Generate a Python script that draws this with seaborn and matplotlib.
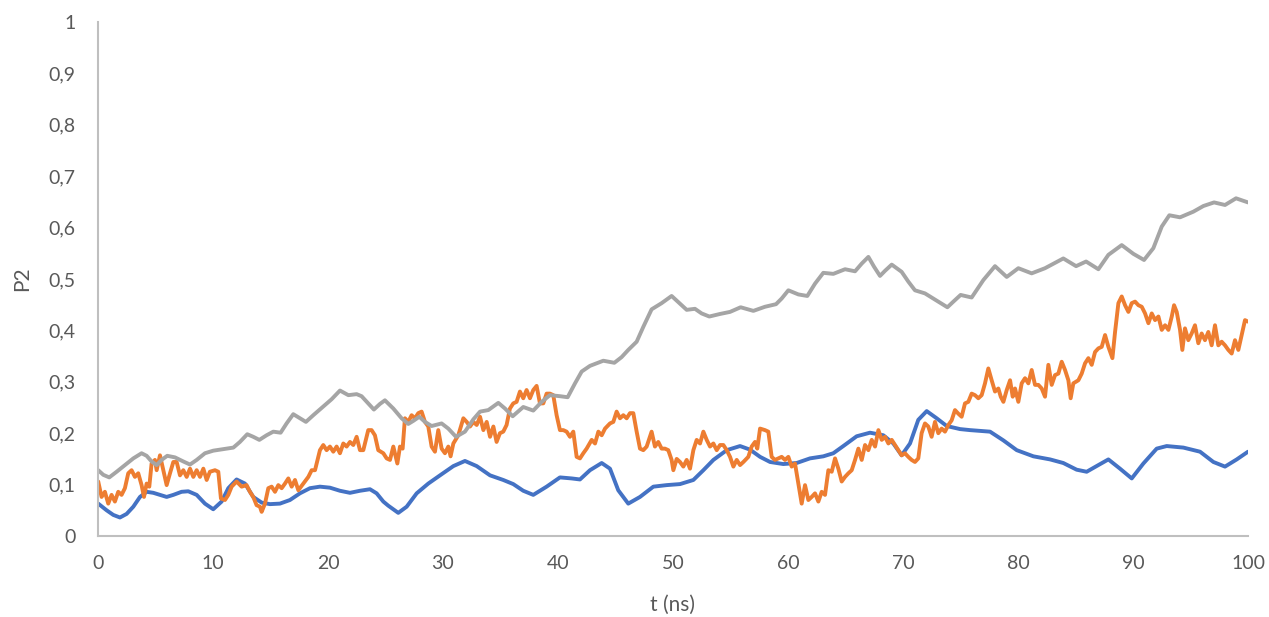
import pandas as pd
import seaborn as sns
import matplotlib.pyplot as plt
from matplotlib.ticker import FuncFormatter, MultipleLocator

# serie azul (suave)
t_azul = [0.02, 0.75, 1.33, 1.91, 2.49, 3.07, 3.65, 4.23, 4.81, 5.39, 5.97, 6.55, 7.27, 7.85,
          8.58, 9.30, 10.02, 10.75, 11.33, 12.05, 12.78, 13.50, 14.23, 14.95, 15.82, 16.69,
          17.56, 18.43, 19.30, 20.17, 21.04, 21.91, 22.78, 23.65, 24.23, 24.81, 25.24, 26.11,
          26.84, 27.71, 28.72, 29.74, 30.90, 31.91, 32.93, 34.09, 35.24, 36.11, 36.98, 37.85,
          39.01, 40.17, 41.19, 41.91, 42.78, 43.80, 44.52, 45.24, 46.11, 47.13, 48.29, 49.45,
          50.61, 51.77, 52.64, 53.51, 54.67, 55.83, 56.70, 57.57, 58.44, 59.59, 60.75, 61.91,
          63.07, 63.94, 64.81, 65.97, 67.13, 68.29, 69.16, 69.88, 70.61, 71.33, 72.06, 72.93,
          73.80, 74.96, 75.83, 77.57, 78.73, 79.89, 81.34, 82.79, 83.94, 85.10, 85.97, 86.99,
          87.86, 88.87, 89.89, 90.90, 92.06, 92.93, 94.38, 95.83, 96.99, 98.00, 99.02, 100.0]
v_azul = [0.063, 0.050, 0.041, 0.036, 0.043, 0.057, 0.076, 0.086, 0.084, 0.080, 0.076, 0.080,
          0.086, 0.087, 0.080, 0.063, 0.052, 0.067, 0.093, 0.110, 0.102, 0.076, 0.065, 0.062,
          0.063, 0.070, 0.083, 0.093, 0.096, 0.094, 0.088, 0.084, 0.088, 0.091, 0.083, 0.067,
          0.059, 0.045, 0.057, 0.083, 0.102, 0.118, 0.136, 0.146, 0.136, 0.118, 0.109, 0.101,
          0.088, 0.080, 0.096, 0.114, 0.112, 0.110, 0.128, 0.142, 0.131, 0.089, 0.063, 0.076,
          0.096, 0.099, 0.101, 0.109, 0.128, 0.148, 0.167, 0.175, 0.168, 0.154, 0.144, 0.140,
          0.142, 0.151, 0.155, 0.161, 0.175, 0.194, 0.201, 0.196, 0.180, 0.157, 0.180, 0.226,
          0.243, 0.229, 0.214, 0.208, 0.206, 0.203, 0.186, 0.167, 0.155, 0.149, 0.142, 0.129,
          0.125, 0.138, 0.149, 0.131, 0.112, 0.141, 0.170, 0.175, 0.172, 0.164, 0.144, 0.135,
          0.149, 0.164]

# serie gris
t_gris = [0.02, 0.46, 0.98, 1.62, 2.34, 3.07, 3.79, 4.23, 4.66, 5.10, 5.53, 6.02, 6.69, 7.42,
          8.00, 8.58, 9.30, 10.02, 10.89, 11.77, 12.34, 12.98, 13.50, 14.03, 14.66, 15.24,
          15.88, 16.40, 16.98, 17.56, 18.08, 18.72, 19.59, 20.31, 21.04, 21.77, 22.49, 22.92,
          23.50, 23.99, 24.52, 24.95, 25.68, 26.40, 26.98, 27.42, 27.94, 28.43, 29.01, 29.88,
          30.46, 31.13, 31.91, 32.64, 33.22, 33.94, 34.81, 35.39, 36.06, 36.98, 37.85, 38.58,
          39.30, 40.17, 40.84, 41.48, 42.06, 42.78, 43.94, 44.90, 45.53, 46.11, 46.84, 47.42,
          48.14, 49.01, 49.88, 50.46, 51.19, 51.91, 52.49, 53.16, 54.09, 54.96, 55.88, 56.99,
          58.00, 58.96, 59.45, 60.03, 60.90, 61.68, 62.35, 63.07, 63.94, 64.96, 65.83, 66.41,
          66.99, 67.48, 68.00, 68.44, 69.02, 69.88, 70.46, 71.04, 71.91, 72.93, 73.86, 74.38,
          75.01, 75.97, 76.99, 78.00, 79.02, 80.03, 81.19, 82.35, 83.94, 85.05, 85.92, 86.99,
          87.86, 89.02, 90.03, 90.96, 91.77, 92.50, 93.16, 94.09, 95.25, 96.12, 97.05, 98.00,
          98.96, 100.0]
v_gris = [0.128, 0.119, 0.114, 0.125, 0.138, 0.151, 0.161, 0.156, 0.145, 0.138, 0.148, 0.156,
          0.153, 0.145, 0.139, 0.148, 0.161, 0.166, 0.169, 0.172, 0.183, 0.198, 0.193, 0.187,
          0.196, 0.203, 0.201, 0.219, 0.237, 0.229, 0.222, 0.235, 0.252, 0.266, 0.283, 0.274,
          0.276, 0.272, 0.258, 0.246, 0.257, 0.264, 0.248, 0.229, 0.218, 0.224, 0.232, 0.222,
          0.214, 0.219, 0.209, 0.193, 0.203, 0.227, 0.242, 0.245, 0.259, 0.248, 0.233, 0.251,
          0.244, 0.261, 0.274, 0.272, 0.270, 0.297, 0.320, 0.331, 0.341, 0.337, 0.348, 0.362,
          0.378, 0.407, 0.441, 0.453, 0.467, 0.455, 0.440, 0.442, 0.433, 0.427, 0.432, 0.436,
          0.445, 0.438, 0.446, 0.451, 0.462, 0.478, 0.470, 0.467, 0.491, 0.512, 0.510, 0.519,
          0.515, 0.530, 0.543, 0.524, 0.506, 0.516, 0.528, 0.514, 0.495, 0.478, 0.472, 0.458,
          0.445, 0.456, 0.469, 0.464, 0.498, 0.525, 0.504, 0.521, 0.511, 0.521, 0.540, 0.525,
          0.534, 0.519, 0.547, 0.566, 0.549, 0.537, 0.560, 0.602, 0.624, 0.620, 0.631, 0.642,
          0.649, 0.644, 0.657, 0.649]

# serie naranja (ruidosa)
t_naranja = [0.02, 0.31, 0.60, 0.89, 1.18, 1.47, 1.76, 2.05, 2.34, 2.63, 2.92, 3.21, 3.50, 3.79,
             4.00, 4.23, 4.46, 4.66, 4.95, 5.10, 5.39, 5.68, 5.97, 6.26, 6.55, 6.84, 7.13, 7.42,
             7.71, 8.00, 8.29, 8.58, 8.87, 9.16, 9.45, 9.73, 10.17, 10.46, 10.69, 11.04, 11.33,
             11.62, 12.05, 12.49, 12.92, 13.21, 13.50, 13.79, 14.08, 14.23, 14.52, 14.81, 15.10,
             15.39, 15.68, 15.97, 16.26, 16.55, 16.84, 17.13, 17.42, 17.85, 18.29, 18.58, 18.87,
             19.30, 19.59, 19.88, 20.17, 20.46, 20.75, 21.04, 21.33, 21.62, 21.91, 22.20, 22.49,
             22.78, 23.07, 23.50, 23.79, 24.08, 24.37, 24.81, 25.10, 25.39, 25.68, 25.82, 26.03,
             26.26, 26.49, 26.69, 26.98, 27.27, 27.56, 27.85, 28.14, 28.43, 28.72, 29.01, 29.30,
             29.59, 29.88, 30.17, 30.46, 30.66, 30.90, 31.33, 31.77, 32.06, 32.35, 32.64, 32.93,
             33.22, 33.51, 33.80, 34.09, 34.38, 34.66, 34.95, 35.24, 35.53, 35.82, 36.11, 36.40,
             36.69, 36.98, 37.27, 37.56, 37.85, 38.14, 38.43, 38.72, 39.01, 39.30, 39.59, 39.88,
             40.17, 40.46, 40.75, 41.04, 41.33, 41.62, 41.91, 42.20, 42.49, 42.93, 43.22, 43.51,
             43.80, 44.09, 44.52, 44.81, 45.10, 45.39, 45.68, 45.97, 46.26, 46.55, 46.84, 47.13,
             47.42, 47.71, 48.14, 48.43, 48.72, 49.01, 49.30, 49.59, 49.88, 50.03, 50.32, 50.61,
             50.90, 51.19, 51.48, 51.77, 52.06, 52.35, 52.64, 52.93, 53.22, 53.51, 53.80, 54.09,
             54.38, 54.67, 54.96, 55.25, 55.54, 55.83, 56.12, 56.55, 56.84, 57.13, 57.33, 57.57,
             58.00, 58.29, 58.58, 58.87, 59.16, 59.45, 59.74, 60.03, 60.32, 60.61, 60.90, 61.19,
             61.48, 61.77, 62.06, 62.35, 62.64, 62.93, 63.22, 63.51, 63.80, 64.09, 64.38, 64.67,
             64.96, 65.25, 65.54, 65.83, 66.12, 66.41, 66.70, 66.99, 67.28, 67.57, 67.86, 68.15,
             68.44, 68.73, 69.02, 69.31, 69.60, 69.88, 70.17, 70.46, 70.75, 71.04, 71.33, 71.62,
             71.91, 72.20, 72.49, 72.78, 73.07, 73.36, 73.65, 73.94, 74.23, 74.52, 74.81, 75.10,
             75.39, 75.68, 75.97, 76.26, 76.55, 76.84, 77.13, 77.42, 77.71, 78.00, 78.29, 78.50,
             78.73, 79.02, 79.31, 79.54, 79.74, 80.03, 80.32, 80.61, 80.90, 81.19, 81.48, 81.77,
             82.06, 82.35, 82.64, 82.93, 83.22, 83.51, 83.80, 84.09, 84.38, 84.58, 84.81, 85.25,
             85.54, 85.83, 86.12, 86.41, 86.70, 86.99, 87.28, 87.57, 87.86, 88.21, 88.44, 88.73,
             89.02, 89.31, 89.60, 89.89, 90.18, 90.47, 90.76, 91.05, 91.34, 91.63, 91.92, 92.21,
             92.50, 92.79, 93.08, 93.37, 93.57, 93.80, 94.09, 94.29, 94.52, 94.81, 95.10, 95.39,
             95.68, 95.97, 96.26, 96.55, 96.84, 97.13, 97.42, 97.71, 98.00, 98.29, 98.58, 98.87,
             99.16, 99.45, 99.74, 100.0]
v_naranja = [0.106, 0.076, 0.086, 0.063, 0.080, 0.067, 0.086, 0.080, 0.093, 0.122, 0.128, 0.115,
             0.122, 0.099, 0.076, 0.102, 0.096, 0.141, 0.148, 0.128, 0.157, 0.128, 0.099, 0.122,
             0.144, 0.144, 0.118, 0.128, 0.115, 0.131, 0.115, 0.128, 0.115, 0.131, 0.109, 0.125,
             0.128, 0.125, 0.073, 0.070, 0.080, 0.096, 0.106, 0.096, 0.099, 0.086, 0.076, 0.060,
             0.057, 0.047, 0.063, 0.093, 0.096, 0.086, 0.099, 0.093, 0.102, 0.112, 0.096, 0.109,
             0.089, 0.102, 0.115, 0.128, 0.128, 0.167, 0.177, 0.167, 0.174, 0.164, 0.174, 0.161,
             0.180, 0.174, 0.183, 0.177, 0.193, 0.167, 0.167, 0.206, 0.206, 0.196, 0.167, 0.161,
             0.151, 0.148, 0.174, 0.161, 0.141, 0.174, 0.170, 0.229, 0.222, 0.235, 0.229, 0.239,
             0.242, 0.222, 0.213, 0.174, 0.164, 0.206, 0.170, 0.161, 0.174, 0.155, 0.180, 0.196,
             0.229, 0.222, 0.213, 0.222, 0.216, 0.232, 0.206, 0.222, 0.193, 0.213, 0.183, 0.200,
             0.203, 0.216, 0.248, 0.258, 0.261, 0.281, 0.268, 0.284, 0.268, 0.284, 0.292, 0.258,
             0.258, 0.277, 0.277, 0.274, 0.235, 0.206, 0.206, 0.203, 0.193, 0.203, 0.154, 0.151,
             0.161, 0.170, 0.187, 0.180, 0.203, 0.196, 0.209, 0.219, 0.222, 0.242, 0.229, 0.235,
             0.229, 0.239, 0.239, 0.203, 0.170, 0.167, 0.174, 0.203, 0.174, 0.183, 0.170, 0.170,
             0.167, 0.148, 0.128, 0.150, 0.144, 0.135, 0.148, 0.131, 0.167, 0.187, 0.180, 0.203,
             0.187, 0.174, 0.180, 0.167, 0.177, 0.177, 0.167, 0.154, 0.135, 0.148, 0.138, 0.144,
             0.154, 0.174, 0.183, 0.170, 0.209, 0.206, 0.203, 0.154, 0.148, 0.151, 0.154, 0.148,
             0.154, 0.135, 0.141, 0.102, 0.063, 0.099, 0.070, 0.076, 0.083, 0.067, 0.086, 0.080,
             0.128, 0.125, 0.151, 0.131, 0.106, 0.115, 0.122, 0.128, 0.148, 0.170, 0.148, 0.177,
             0.167, 0.187, 0.174, 0.206, 0.187, 0.193, 0.180, 0.187, 0.177, 0.167, 0.157, 0.161,
             0.154, 0.148, 0.144, 0.151, 0.200, 0.219, 0.213, 0.193, 0.222, 0.200, 0.209, 0.203,
             0.216, 0.225, 0.245, 0.238, 0.232, 0.258, 0.261, 0.277, 0.274, 0.268, 0.274, 0.297,
             0.326, 0.303, 0.281, 0.287, 0.271, 0.261, 0.284, 0.303, 0.271, 0.287, 0.261, 0.297,
             0.307, 0.297, 0.323, 0.294, 0.294, 0.287, 0.271, 0.333, 0.294, 0.313, 0.316, 0.339,
             0.323, 0.303, 0.268, 0.297, 0.303, 0.316, 0.336, 0.346, 0.333, 0.358, 0.365, 0.368,
             0.391, 0.368, 0.346, 0.397, 0.453, 0.466, 0.449, 0.436, 0.453, 0.456, 0.449, 0.446,
             0.433, 0.414, 0.433, 0.420, 0.427, 0.401, 0.410, 0.401, 0.427, 0.449, 0.436, 0.401,
             0.362, 0.404, 0.381, 0.394, 0.410, 0.375, 0.394, 0.381, 0.397, 0.371, 0.410, 0.371,
             0.378, 0.371, 0.362, 0.355, 0.381, 0.362, 0.391, 0.420, 0.417]

df_azul = pd.DataFrame({'t': t_azul, 'P2': v_azul})
df_naranja = pd.DataFrame({'t': t_naranja, 'P2': v_naranja})
df_gris = pd.DataFrame({'t': t_gris, 'P2': v_gris})

sns.set_style('white')
plt.rcParams['font.family'] = ['Lato', 'DejaVu Sans']

fig = plt.figure(figsize=(12.69, 6.17), dpi=100)
ax = fig.add_axes([98 / 1269, 1 - 536 / 617, 1150 / 1269, 514 / 617])

# mismo orden de dibujo que el original: azul, naranja, gris
estilo = dict(linewidth=2.8, solid_joinstyle='round', solid_capstyle='round', ax=ax)
sns.lineplot(data=df_azul, x='t', y='P2', color='#4472C4', **estilo)
sns.lineplot(data=df_naranja, x='t', y='P2', color='#ED7D31', **estilo)
sns.lineplot(data=df_gris, x='t', y='P2', color='#A5A5A5', **estilo)

ax.set_xlim(0, 100)
ax.set_ylim(0, 1)
ax.xaxis.set_major_locator(MultipleLocator(10))
ax.yaxis.set_major_locator(MultipleLocator(0.1))
coma = FuncFormatter(lambda v, pos: ('%g' % round(v, 2)).replace('.', ','))
ax.xaxis.set_major_formatter(coma)
ax.yaxis.set_major_formatter(coma)
ax.tick_params(axis='both', length=0, labelsize=14, labelcolor='#595959')
ax.tick_params(axis='y', pad=16)
ax.tick_params(axis='x', pad=14)

for lado in ['top', 'right']:
    ax.spines[lado].set_visible(False)
for lado in ['left', 'bottom']:
    ax.spines[lado].set_color('#BFBFBF')
    ax.spines[lado].set_linewidth(1.5)

ax.set_xlabel('t (ns)', fontsize=15, color='#595959', labelpad=16)
ax.set_ylabel('P2', fontsize=15, color='#595959', labelpad=12)
ax.grid(False)

fig.savefig('out.png', dpi=100)
